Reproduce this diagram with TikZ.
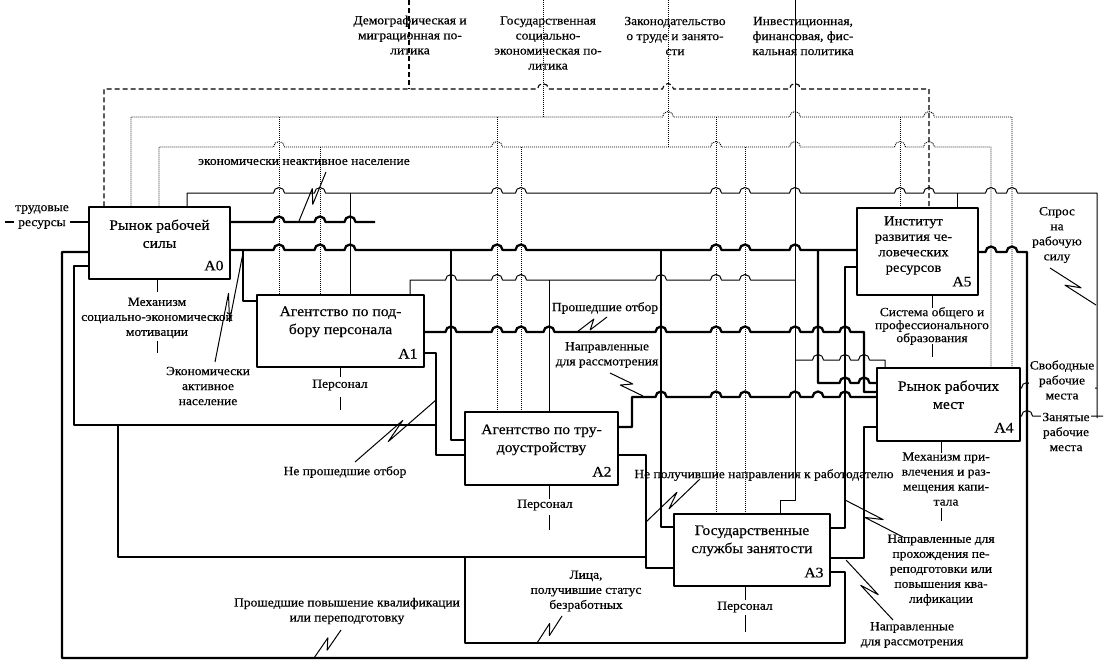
\documentclass[tikz,border=0pt]{standalone}
\usepackage{fontspec}
\setmainfont{Liberation Serif}[FakeStretch=1.08, FakeBold=0.4]
\usetikzlibrary{positioning,calc}

\newcommand\hop{arc[start angle=180,end angle=0,radius=5.5pt]}
\def\hr{5.5}
\newcommand\zz[2]{\draw[lead] (#1) -- ($(#1)!.62!(#2)!4pt!90:(#2)$) -- ($(#1)!.38!(#2)!4pt!-90:(#2)$) -- (#2);}

\begin{document}
\begin{tikzpicture}[x=1pt, y=-1pt, line join=round,
    box/.style={draw, line width=1.4pt, inner sep=0pt},
    btxt/.style={font=\fontsize{14.5}{18}\selectfont, align=center, inner sep=0pt},
    code/.style={font=\fontsize{14.5}{16}\selectfont, inner sep=0pt},
    lbl/.style={font=\fontsize{12.5}{15}\selectfont, align=center, inner sep=0pt},
    fat/.style={line width=2.3pt},
    slim/.style={line width=1pt},
    ctl/.style={line width=0.9pt, dash pattern=on 1pt off 1pt},
    pol/.style={line width=1.1pt, dash pattern=on 5pt off 3pt},
    lead/.style={line width=1pt}]
    \useasboundingbox (0,0) rectangle (1110,666);

    \node[box, minimum width=141pt, minimum height=72pt] (A0) at (159.5,243) {};
    \node[box, minimum width=167pt, minimum height=72pt] (A1) at (340.5,331) {};
    \node[box, minimum width=153pt, minimum height=73pt] (A2) at (541.5,448.5) {};
    \node[box, minimum width=156pt, minimum height=72pt] (A3) at (752,550) {};
    \node[box, minimum width=143pt, minimum height=73pt] (A4) at (948.5,404.5) {};
    \node[box, minimum width=121pt, minimum height=87pt] (A5) at (917.5,251.5) {};

    \node[btxt, below=13pt of A0.north] (A0t) {Рынок рабочей\\силы};
    \node[btxt, below=12pt of A1.north] (A1t) {Агентство по под-\\бору персонала};
    \node[btxt, below=13pt of A2.north] (A2t) {Агентство по тру-\\доустройству};
    \node[btxt, below=12pt of A3.north] (A3t) {Государственные\\службы занятости};
    \node[btxt, below=13pt of A4.north] (A4t) {Рынок рабочих\\мест};
    \node[btxt, font=\fontsize{13.5}{15.5}\selectfont, below=9pt of A5.north, xshift=-4pt] (A5t) {Институт\\развития че-\\ловеческих\\ресурсов};
    \foreach \b in {A0,A1,A2,A3,A4,A5}
      \node[code, above left=9pt and 7pt of \b.south east] (\b c) {\b};

    % policies from above
    \draw[pol] (409,0) -- (409,89);
    \draw[pol] (A0.north -| 104,0) -- (104,89) \foreach \h in {543,668,795} {-- (\h-\hr,89) \hop} -- (929,89) -- (A5.north -| 929,0);
    \draw[ctl] (543,0) -- (543,117);
    \draw[ctl] (A0.north -| 131,0) -- (131,117) \foreach \h in {668,795,929} {-- (\h-\hr,117) \hop} -- (1012,117) -- (A4.north -| 1012,0);
    \foreach \x/\b in {279/A1,497/A2,716/A3,900/A5}
      \draw[ctl] (\x,117) -- (\b.north -| \x,0);
    \draw[ctl] (668,0) -- (668,147);
    \draw[ctl] (A0.north -| 159,0) -- (159,147) \foreach \h in {279,497,716,795,900,929} {-- (\h-\hr,147) \hop} -- (991,147) -- (A4.north -| 991,0);
    \foreach \x/\b in {320/A1,521/A2,745/A3}
      \draw[ctl] (\x,147) -- (\b.north -| \x,0);
    \draw[slim] (795,0) -- (795,500) -- (780,500) -- (A3.north -| 780,0);
    \draw[slim] (A1.north -| 410,0) -- (410,280) \foreach \h in {451,497,521,661,716,745} {-- (\h-\hr,280) \hop} -- (795,280);
    \draw[slim] (549,280) -- (A2.north -| 549,0);
    \draw[slim] (795,360) \foreach \h in {818,845,864} {-- (\h-\hr,360) \hop} -- (885,360) -- (A4.north -| 885,0);

    % demand for labour
    \draw[slim] (A0.north -| 187,0) -- (187,193) \foreach \h in {279,320,497,521,716,745,795,900,929,991,1012} {-- (\h-\hr,193) \hop} -- (1097,193) -- (1097,418);
    \draw[slim] (350,193) -- (A1.north -| 350,0);
    \draw[slim] (957,193) -- (A5.north -| 957,0);
    \draw[slim] (A4.east |- 0,388) -- (1027-\hr,388) \hop -- (1097,388);
    \draw[slim] (A4.east |- 0,416) -- (1027-\hr,416) \hop -- (1103,416);

    % A0
    \draw[fat] (5,222) -- (A0.west |- 0,222);
    \draw[fat] (A0.east |- 0,222) \foreach \h in {279,320,350} {-- (\h-\hr,222) \hop} -- (375,222);
    \draw[fat] (A0.east |- 0,250) \foreach \h in {279,320,350,497,521,716,745,795} {-- (\h-\hr,250) \hop} -- (A5.west |- 0,250);
    \draw[fat] (243,250) -- (243,301) -- (A1.west |- 0,301);
    \draw[fat] (451,250) -- (451,440) -- (A2.west |- 0,440);
    \draw[fat] (661,250) -- (661,527) -- (A3.west |- 0,527);
    \draw[fat] (818,250) -- (818,383) \foreach \h in {845,864} {-- (\h-\hr,383) \hop} -- (A4.west |- 0,383);

    % A1
    \draw[fat] (A1.east |- 0,332) \foreach \h in {451,497,521,549,661,716,745,795,818,845} {-- (\h-\hr,332) \hop} -- (864,332) -- (864,392) -- (A4.west |- 0,392);
    \draw[fat] (A1.east |- 0,353) -- (436,353) -- (436,455) -- (A2.west |- 0,455);
    \draw[fat] (436,425) -- (74,425) |- (A0.west |- 0,266);
    \draw[fat] (118,425) -- (118,557) -- (646,557);

    % A2
    \draw[fat] (A2.east |- 0,427) -- (632,427) -- (632,397) \foreach \h in {661,716,745,795,818,845} {-- (\h-\hr,397) \hop} -- (A4.west |- 0,397);
    \draw[fat] (A2.east |- 0,455) -- (646,455) -- (646,568) -- (A3.west |- 0,568);

    % A3
    \draw[fat] (A3.east |- 0,528) -- (845,528) -- (845,267) -- (A5.west |- 0,267);
    \draw[fat] (A3.east |- 0,558) -- (864,558) -- (864,427) -- (A4.west |- 0,427);
    \draw[fat] (A3.east |- 0,572) -- (845,572) -- (845,643) -- (465,643) -- (465,557);

    % A5
    \draw[fat] (A5.east |- 0,252) \foreach \h in {991,1012} {-- (\h-\hr,252) \hop} -- (1027,252) -- (1027,658) -- (62,658) |- (A0.west |- 0,252);

    % mechanisms
    \draw[slim] (A0.south -| 157,0) -- ++(0,12);
    \draw[slim] (157,341) -- (157,353);
    \draw[slim] (A1.south -| 340,0) -- ++(0,9);
    \draw[slim] (340,397) -- (340,410);
    \draw[slim] (A2.south -| 549,0) -- ++(0,13);
    \draw[slim] (549,515) -- (549,530);
    \draw[slim] (A3.south -| 745,0) -- ++(0,13);
    \draw[slim] (745,615) -- (745,632);
    \draw[slim] (A4.south -| 941,0) -- ++(0,11);
    \draw[slim] (941,508) -- (941,521);
    \draw[slim] (A5.south -| 932,0) -- ++(0,12);
    \draw[slim] (932,344) -- (932,357);

    % labels
    \node[lbl] (dem) at (410,35) {Демографическая и\\миграционная по-\\литика};
    \node[lbl] (gos) at (548,43) {Государственная\\социально-\\экономическая по-\\литика};
    \node[lbl] (zak) at (675,36) {Законодательство\\о труде и занято-\\сти};
    \node[lbl] (inv) at (803,36) {Инвестиционная,\\финансовая, фис-\\кальная политика};
    \node[lbl] (nea) at (304,162) {экономически неактивное население};
    \node[lbl] (mot) at (157,318) {Механизм\\социально-экономической\\мотивации};
    \node[lbl] (akt) at (208,386) {Экономически\\активное\\население};
    \node[lbl] (p1) at (340,385) {Персонал};
    \node[lbl] (npo) at (345,472) {Не прошедшие отбор};
    \node[lbl] (pov) at (347,611) {Прошедшие повышение квалификации\\или переподготовку};
    \node[lbl] (pro) at (605,308) {Прошедшие отбор};
    \node[lbl] (nr1) at (607,355) {Направленные\\для рассмотрения};
    \node[lbl] (p2) at (545,505) {Персонал};
    \node[lbl] (npn) at (764,475) {Не получившие направления к работодателю};
    \node[lbl] (bez) at (586,591) {Лица,\\получившие статус\\безработных};
    \node[lbl] (p3) at (745,607) {Персонал};
    \node[lbl] (kap) at (946,479) {Механизм при-\\влечения и раз-\\мещения капи-\\тала};
    \node[lbl] (per) at (941,570) {Направленные для\\прохождения пе-\\реподготовки или\\повышения ква-\\лификации};
    \node[lbl] (nr2) at (912,635) {Направленные\\для рассмотрения};
    \node[lbl, font=\fontsize{12.5}{13}\selectfont] (obr) at (932,326) {Система общего и\\профессионального\\образования};
    \node[lbl] (spr) at (1057,235) {Спрос\\на\\рабочую\\силу};
    \node[lbl, fill=white, inner sep=1pt] (svo) at (1062,380) {Свободные\\рабочие\\места};
    \node[lbl, fill=white, inner sep=1pt] (zan) at (1066,432) {Занятые\\рабочие\\места};
    \node[lbl, fill=white, inner sep=1pt] (tru) at (42,217) {трудовые\\ресурсы};

    % label leads
    \zz{299,221}{326,172}
    \zz{243,253}{215,362}
    \zz{436,400}{355,462}
    \zz{577,332}{607,317}
    \zz{643,396}{610,373}
    \zz{646,522}{700,479}
    \zz{537,643}{562,616}
    \zz{314,658}{341,630}
    \zz{845,500}{903,537}
    \zz{846,560}{893,620}
    \zz{1096,305}{1050,268}
\end{tikzpicture}
\end{document}
